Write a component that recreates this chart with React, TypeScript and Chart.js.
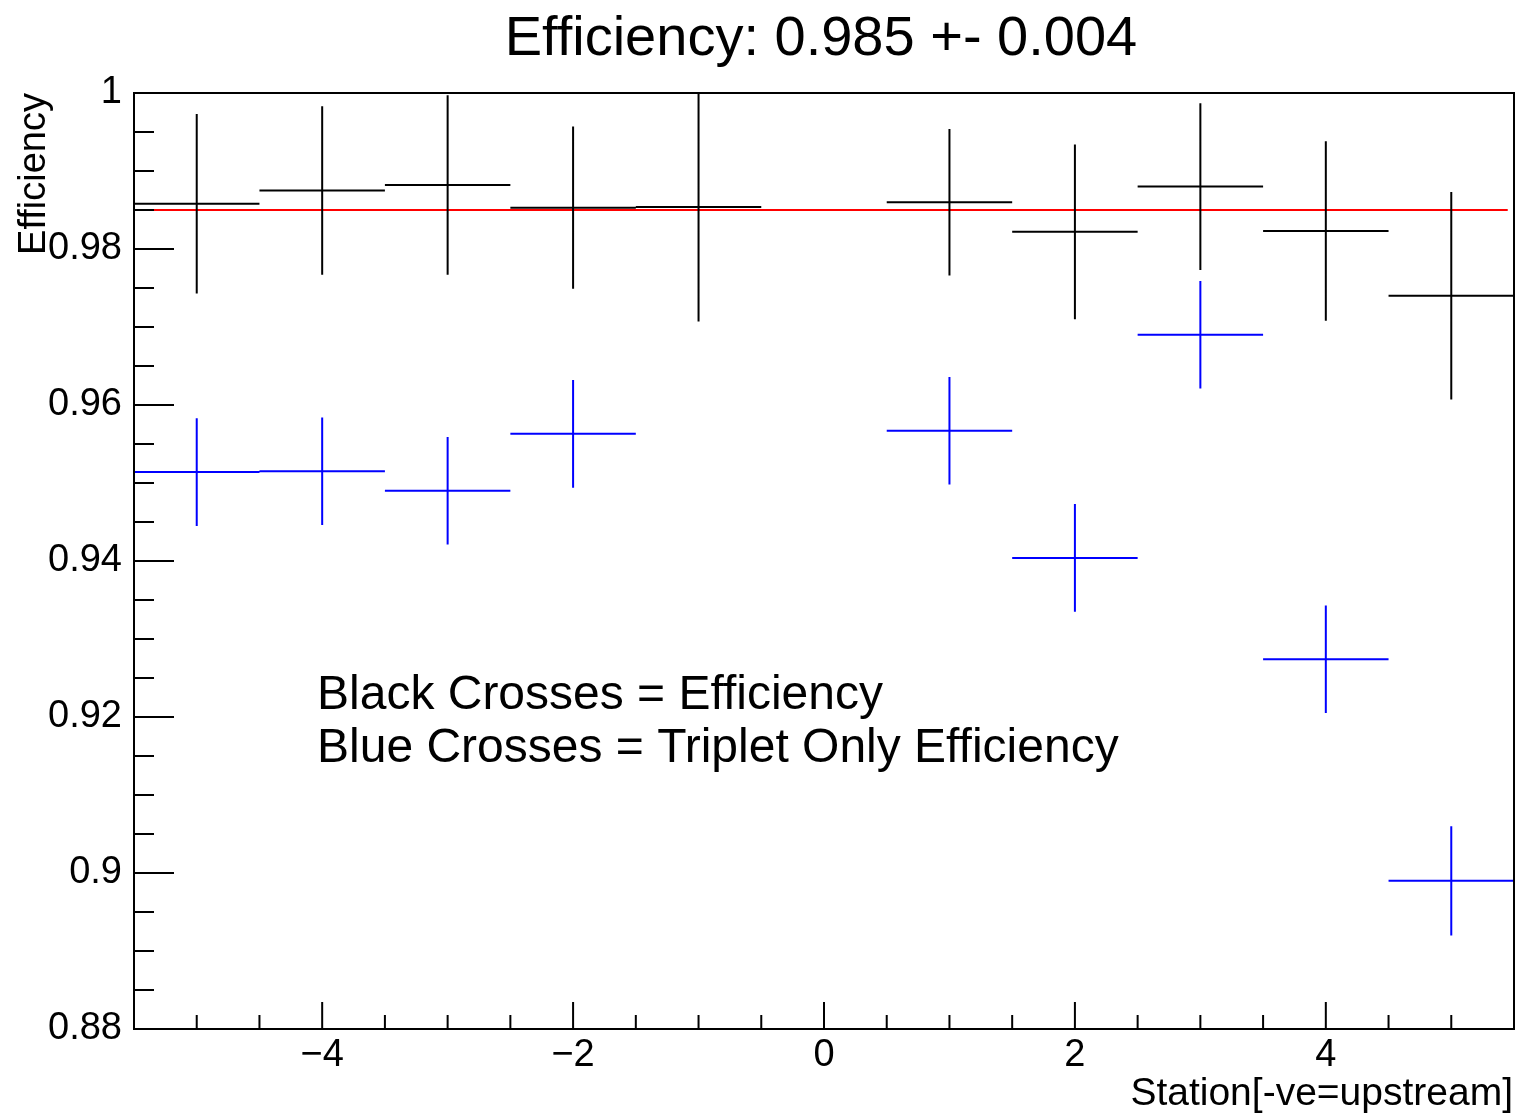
import React, { useEffect, useRef } from 'react';
import { Chart, registerables } from 'chart.js';

Chart.register(...registerables);

// ---- Data ----
const STATIONS = [-5, -4, -3, -2, -1, 0, 1, 2, 3, 4, 5];
const EFFICIENCY = [0.9858, 0.9875, 0.9882, 0.9853, 0.9854, null, 0.986, 0.9822, 0.988, 0.9823, 0.974];
const EFFICIENCY_ERR = [0.0115, 0.0108, 0.0115, 0.0104, 0.0147, null, 0.0094, 0.0112, 0.0107, 0.0115, 0.0133];
const TRIPLET_EFF = [0.9514, 0.9515, 0.949, 0.9563, null, null, 0.9567, 0.9404, 0.969, 0.9274, 0.899];
const TRIPLET_ERR = [0.0069, 0.0069, 0.0069, 0.0069, null, null, 0.0069, 0.0069, 0.0069, 0.0069, 0.007];
const BIN_HALF_WIDTH = 0.5;
const FIT_VALUE = 0.985;
const FIT_RANGE = [-5.45, 5.45];

const X_TICKS = [-4, -2, 0, 2, 4];
const X_TICK_LABELS = ['\u22124', '\u22122', '0', '2', '4'];
const Y_TICKS = [0.88, 0.9, 0.92, 0.94, 0.96, 0.98, 1.0];
const Y_TICK_LABELS = ['0.88', '0.9', '0.92', '0.94', '0.96', '0.98', '1'];

const TITLE = 'Efficiency: 0.985 +- 0.004';
const X_TITLE = 'Station[-ve=upstream]';
const Y_TITLE = 'Efficiency';
const NOTE_LINES = ['Black Crosses = Efficiency', 'Blue Crosses = Triplet Only Efficiency'];

const FONT = '"Liberation Sans", Arial, Helvetica, sans-serif';

function crosses(vals: (number | null)[], errs: (number | null)[]) {
  const pts: { x: number; y: number | null }[] = [];
  STATIONS.forEach((s, i) => {
    const v = vals[i];
    const e = errs[i];
    if (v == null || e == null) return;
    pts.push({ x: s - BIN_HALF_WIDTH, y: v }, { x: s + BIN_HALF_WIDTH, y: v }, { x: s, y: null });
    pts.push({ x: s, y: v - e }, { x: s, y: v + e }, { x: s, y: null });
  });
  return pts;
}

const decorPlugin = {
  id: 'rootDecor',
  afterDraw(chart: any) {
    const { ctx, chartArea } = chart;
    const xs = chart.scales.x;
    const ys = chart.scales.y;
    const { left, right, top, bottom } = chartArea;
    ctx.save();
    ctx.strokeStyle = '#000';
    ctx.lineWidth = 2;
    // frame
    ctx.strokeRect(left, top, right - left, bottom - top);
    // y ticks
    ctx.beginPath();
    for (let k = 0; k <= 24; k++) {
      const v = 0.88 + k * 0.005;
      const py = ys.getPixelForValue(v);
      const len = k % 4 === 0 ? 40 : 20;
      ctx.moveTo(left, py);
      ctx.lineTo(left + len, py);
    }
    // x ticks
    for (let k = -10; k <= 10; k++) {
      const v = k * 0.5;
      const px = xs.getPixelForValue(v);
      const len = k % 4 === 0 ? 27 : 14;
      ctx.moveTo(px, bottom);
      ctx.lineTo(px, bottom - len);
    }
    ctx.stroke();

    ctx.fillStyle = '#000';
    // title
    ctx.font = `56px ${FONT}`;
    ctx.textAlign = 'center';
    ctx.textBaseline = 'alphabetic';
    ctx.fillText(TITLE, 821, 55);
    // x title
    ctx.font = `39px ${FONT}`;
    ctx.textAlign = 'right';
    ctx.fillText(X_TITLE, right - 1, 1105);
    // y title
    ctx.font = `38px ${FONT}`;
    ctx.save();
    ctx.translate(45, top);
    ctx.rotate(-Math.PI / 2);
    ctx.textAlign = 'right';
    ctx.fillText(Y_TITLE, 0, 0);
    ctx.restore();
    // note
    ctx.font = `48px ${FONT}`;
    ctx.textAlign = 'left';
    ctx.fillText(NOTE_LINES[0], 317, 709);
    ctx.fillText(NOTE_LINES[1], 317, 762);
    ctx.restore();
  },
};

export default function App() {
  const ref = useRef<HTMLCanvasElement | null>(null);
  useEffect(() => {
    if (!ref.current) return;
    const chart = new Chart(ref.current, {
      type: 'line',
      data: {
        datasets: [
          {
            label: 'fit',
            data: [
              { x: FIT_RANGE[0], y: FIT_VALUE },
              { x: FIT_RANGE[1], y: FIT_VALUE },
            ],
            borderColor: '#ff0000',
            borderWidth: 2,
            pointRadius: 0,
            order: 3,
          },
          {
            label: 'Efficiency',
            data: crosses(EFFICIENCY, EFFICIENCY_ERR),
            borderColor: '#000000',
            borderWidth: 2,
            pointRadius: 0,
            spanGaps: false,
            order: 1,
          },
          {
            label: 'Triplet Only Efficiency',
            data: crosses(TRIPLET_EFF, TRIPLET_ERR),
            borderColor: '#0000ff',
            borderWidth: 2,
            pointRadius: 0,
            spanGaps: false,
            order: 2,
          },
        ],
      },
      options: {
        animation: false,
        responsive: false,
        layout: { padding: { top: 93, right: 5, left: 0, bottom: 0 } },
        plugins: { legend: { display: false }, title: { display: false }, tooltip: { enabled: false } },
        elements: { line: { tension: 0, borderCapStyle: 'butt' } },
        scales: {
          x: {
            type: 'linear',
            min: -5.5,
            max: 5.5,
            grid: { display: false },
            border: { display: false },
            afterBuildTicks: (s: any) => {
              s.ticks = X_TICKS.map((v) => ({ value: v }));
            },
            afterFit: (s: any) => {
              s.height = 87;
            },
            ticks: {
              autoSkip: false,
              maxRotation: 0,
              padding: 0,
              color: '#000',
              font: { family: FONT, size: 38, lineHeight: 0.95 },
              callback: (v: any) => X_TICK_LABELS[X_TICKS.indexOf(Number(v))] ?? '',
            },
          },
          y: {
            type: 'linear',
            min: 0.88,
            max: 1.0,
            grid: { display: false },
            border: { display: false },
            afterBuildTicks: (s: any) => {
              s.ticks = Y_TICKS.map((v) => ({ value: v }));
            },
            afterFit: (s: any) => {
              s.width = 134;
            },
            ticks: {
              autoSkip: false,
              padding: 4,
              color: '#000',
              font: { family: FONT, size: 38 },
              callback: (v: any) => {
                const i = Y_TICKS.findIndex((t) => Math.abs(t - Number(v)) < 1e-9);
                return i >= 0 ? Y_TICK_LABELS[i] : '';
              },
            },
          },
        },
      } as any,
      plugins: [decorPlugin],
    });
    return () => chart.destroy();
  }, []);
  return (
    <div style={{ position: 'absolute', left: 0, top: 0, width: 1519, height: 1116, background: '#fff' }}>
      <canvas ref={ref} width={1519} height={1116} style={{ display: 'block' }} />
    </div>
  );
}
